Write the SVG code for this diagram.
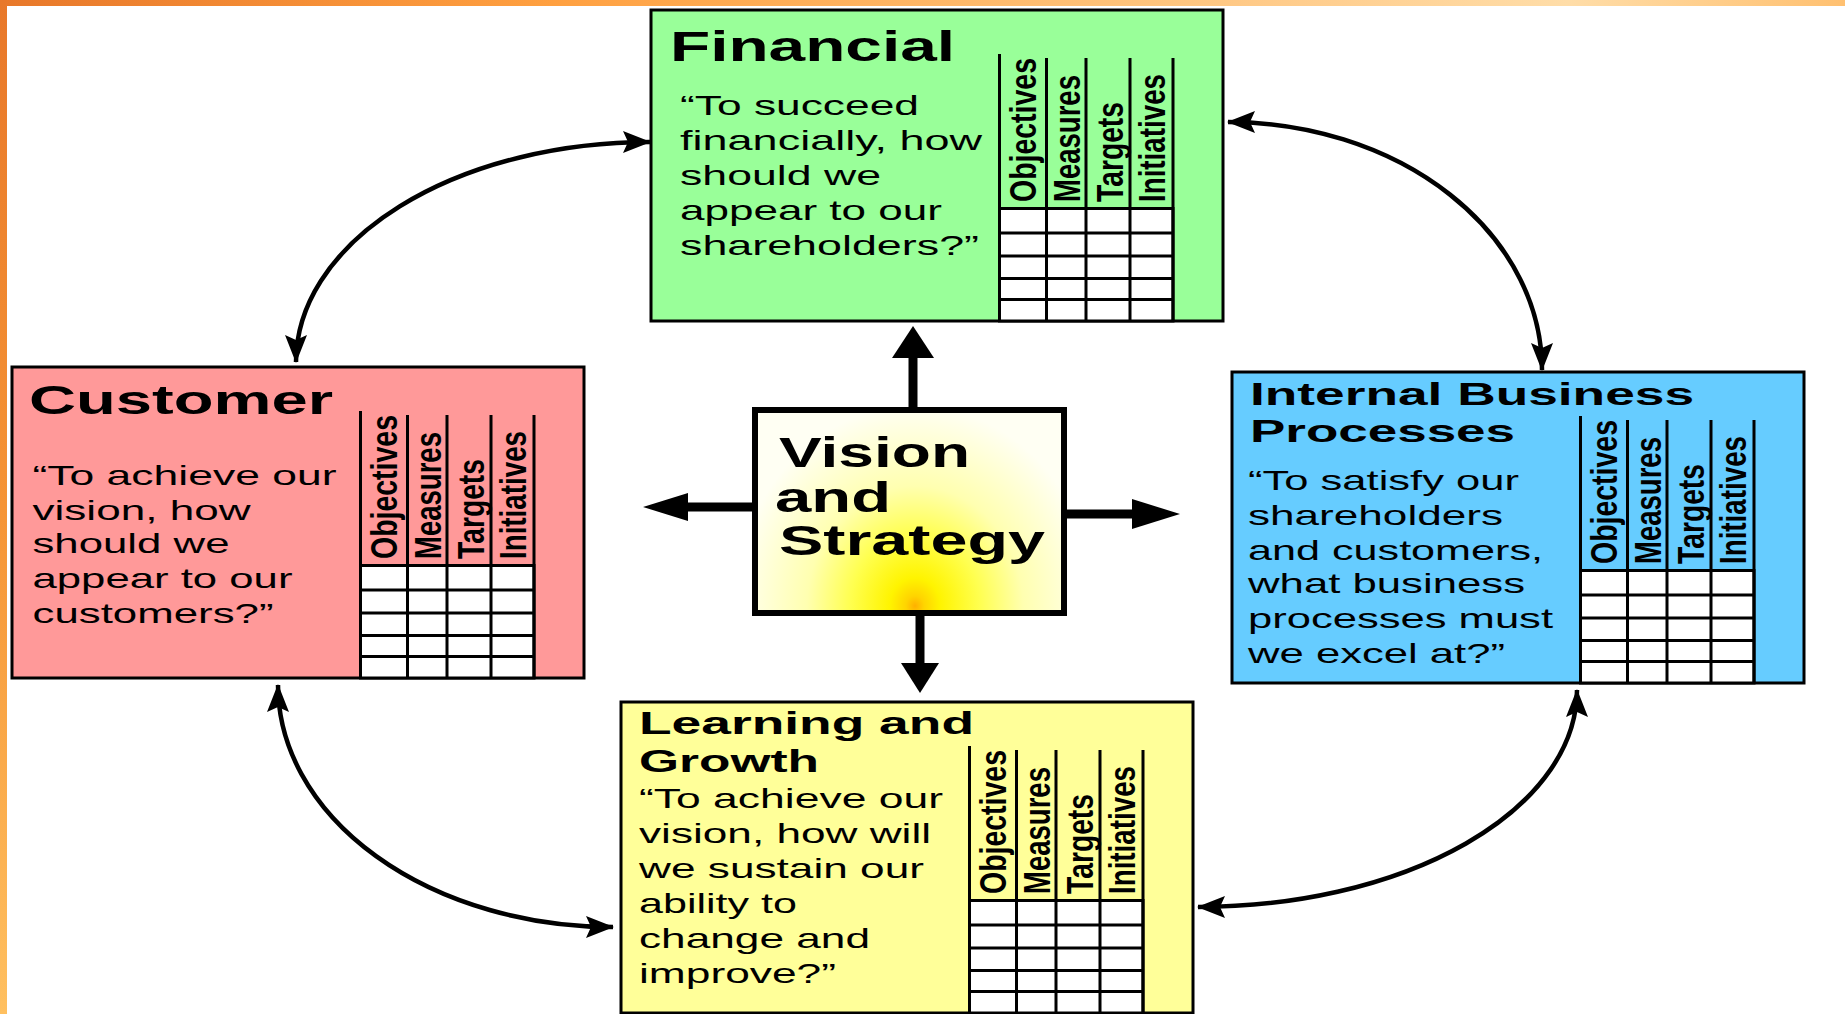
<svg xmlns="http://www.w3.org/2000/svg" xmlns:xlink="http://www.w3.org/1999/xlink" width="1845" height="1014" viewBox="0 0 1845 1014">
  <style>
    .t { font-family: "Liberation Sans", Arial, sans-serif; fill: #000; }
    .title { font-weight: bold; }
    .body { font-size: 28px; }
    .hdr { font-weight: bold; font-size: 36px; }
    .box { stroke: #000; stroke-width: 3; }
    .grid { fill: #fff; stroke: #000; stroke-width: 3; }
    .gl { stroke: #000; stroke-width: 3; fill: none; }
    .arc { fill: none; stroke: #000; stroke-width: 4.5; marker-start: url(#tip); marker-end: url(#tip); }
    .shaft { stroke: #000; stroke-width: 9; }
    .head { fill: #000; }
  </style>
  <defs>
    <linearGradient id="topBand" x1="0" y1="0" x2="1" y2="0">
      <stop offset="0" stop-color="#E8782A"/>
      <stop offset="0.3" stop-color="#FFA040"/>
      <stop offset="0.85" stop-color="#FFDDA8"/>
      <stop offset="1" stop-color="#FFC070"/>
    </linearGradient>
    <linearGradient id="sideBand" x1="0" y1="0" x2="0" y2="1">
      <stop offset="0" stop-color="#E8782A"/>
      <stop offset="0.5" stop-color="#F59435"/>
      <stop offset="1" stop-color="#FFC060"/>
    </linearGradient>
    <radialGradient id="glow" gradientUnits="userSpaceOnUse" cx="915" cy="606" r="200" gradientTransform="translate(915 606) scale(0.9 1) translate(-915 -606)">
      <stop offset="0" stop-color="#FFB000"/>
      <stop offset="0.05" stop-color="#FFD400"/>
      <stop offset="0.14" stop-color="#FFF400"/>
      <stop offset="0.36" stop-color="#FFFF50"/>
      <stop offset="0.6" stop-color="#FFFFB0"/>
      <stop offset="1" stop-color="#FFFFF3"/>
    </radialGradient>
    <marker id="tip" markerUnits="userSpaceOnUse" markerWidth="28" markerHeight="22" viewBox="0 0 28 22" refX="27" refY="11" orient="auto-start-reverse">
      <path d="M0,0 L28,11 L0,22 L5,11 z" fill="#000"/>
    </marker>
    <!-- objectives / measures / targets / initiatives table, placed relative to its card -->
    <g id="scorecard">
      <rect class="grid" x="348.5" y="198.5" width="173.5" height="112.5"/>
      <path class="gl" d="M348.5,44 V311 M395.5,48 V311 M435,48 V311 M479,48 V311 M522,48 V311 M348.5,223 H522 M348.5,246 H522 M348.5,268.5 H522 M348.5,289.5 H522"/>
      <text class="t hdr" transform="translate(385,192) rotate(-90)" textLength="144" lengthAdjust="spacingAndGlyphs">Objectives</text>
      <text class="t hdr" transform="translate(429,192) rotate(-90)" textLength="127" lengthAdjust="spacingAndGlyphs">Measures</text>
      <text class="t hdr" transform="translate(471.5,192) rotate(-90)" textLength="100" lengthAdjust="spacingAndGlyphs">Targets</text>
      <text class="t hdr" transform="translate(514,192) rotate(-90)" textLength="128" lengthAdjust="spacingAndGlyphs">Initiatives</text>
    </g>
  </defs>

  <!-- slide background -->
  <rect x="0" y="0" width="1845" height="1014" fill="#FFFFFF"/>
  <rect x="0" y="0" width="1845" height="6" fill="url(#topBand)"/>
  <rect x="0" y="0" width="7" height="1014" fill="url(#sideBand)"/>

  <!-- connectors -->
  <g id="connectors">
    <path class="arc" d="M296,362 A354,220 0 0 1 650,142"/>
    <path class="arc" d="M1228,122 A314,248 0 0 1 1542,370"/>
    <path class="arc" d="M1577,690 A379,217 0 0 1 1198,907"/>
    <path class="arc" d="M278,685 A335,242 0 0 0 613,927"/>

    <line class="shaft" x1="913" y1="410" x2="913" y2="356"/>
    <polygon class="head" points="892,358 913,326 934,358"/>
    <line class="shaft" x1="920" y1="613" x2="920" y2="665"/>
    <polygon class="head" points="901,663 920,693 939,663"/>
    <line class="shaft" x1="754" y1="507" x2="686" y2="507"/>
    <polygon class="head" points="688,493 643,507 688,521"/>
    <line class="shaft" x1="1064" y1="514" x2="1134" y2="514"/>
    <polygon class="head" points="1132,499 1180,514 1132,529"/>
  </g>

  <!-- Financial perspective -->
  <g id="financial" transform="translate(651,10)">
    <rect class="box" x="0" y="0" width="572" height="311" fill="#99FF99"/>
    <use xlink:href="#scorecard" href="#scorecard"/>
    <text class="t title" x="19" y="51" font-size="43" textLength="285" lengthAdjust="spacingAndGlyphs">Financial</text>
    <g class="t body">
      <text x="29" y="105" textLength="239" lengthAdjust="spacingAndGlyphs">“To succeed</text>
      <text x="29" y="140" textLength="302" lengthAdjust="spacingAndGlyphs">financially, how</text>
      <text x="29" y="175" textLength="201" lengthAdjust="spacingAndGlyphs">should we</text>
      <text x="29" y="210" textLength="262" lengthAdjust="spacingAndGlyphs">appear to our</text>
      <text x="29" y="245" textLength="299" lengthAdjust="spacingAndGlyphs">shareholders?”</text>
    </g>
  </g>

  <!-- Customer perspective -->
  <g id="customer" transform="translate(12,367)">
    <rect class="box" x="0" y="0" width="572" height="311" fill="#FF9999"/>
    <use xlink:href="#scorecard" href="#scorecard"/>
    <text class="t title" x="17" y="47" font-size="41" textLength="304" lengthAdjust="spacingAndGlyphs">Customer</text>
    <g class="t body">
      <text x="20.5" y="118" textLength="304" lengthAdjust="spacingAndGlyphs">“To achieve our</text>
      <text x="20.5" y="153" textLength="218" lengthAdjust="spacingAndGlyphs">vision, how</text>
      <text x="20.5" y="186" textLength="197" lengthAdjust="spacingAndGlyphs">should we</text>
      <text x="20.5" y="221" textLength="260" lengthAdjust="spacingAndGlyphs">appear to our</text>
      <text x="20.5" y="256" textLength="241" lengthAdjust="spacingAndGlyphs">customers?”</text>
    </g>
  </g>

  <!-- Internal Business Processes perspective -->
  <g id="internal" transform="translate(1232,372)">
    <rect class="box" x="0" y="0" width="572" height="311" fill="#66CCFF"/>
    <use xlink:href="#scorecard" href="#scorecard"/>
    <text class="t title" x="18" y="33" font-size="32" textLength="444" lengthAdjust="spacingAndGlyphs">Internal Business</text>
    <text class="t title" x="18" y="70" font-size="32" textLength="265" lengthAdjust="spacingAndGlyphs">Processes</text>
    <g class="t body">
      <text x="16" y="118" textLength="271" lengthAdjust="spacingAndGlyphs">“To satisfy our</text>
      <text x="16" y="153" textLength="255" lengthAdjust="spacingAndGlyphs">shareholders</text>
      <text x="16" y="188" textLength="295" lengthAdjust="spacingAndGlyphs">and customers,</text>
      <text x="16" y="221" textLength="277" lengthAdjust="spacingAndGlyphs">what business</text>
      <text x="16" y="256" textLength="305" lengthAdjust="spacingAndGlyphs">processes must</text>
      <text x="16" y="291" textLength="257" lengthAdjust="spacingAndGlyphs">we excel at?”</text>
    </g>
  </g>

  <!-- Learning and Growth perspective -->
  <g id="learning" transform="translate(621,702)">
    <rect class="box" x="0" y="0" width="572" height="311" fill="#FFFF99"/>
    <use xlink:href="#scorecard" href="#scorecard"/>
    <text class="t title" x="18" y="32" font-size="31" textLength="335" lengthAdjust="spacingAndGlyphs">Learning and</text>
    <text class="t title" x="18" y="70" font-size="31" textLength="180" lengthAdjust="spacingAndGlyphs">Growth</text>
    <g class="t body">
      <text x="18" y="106" textLength="304" lengthAdjust="spacingAndGlyphs">“To achieve our</text>
      <text x="18" y="141" textLength="292" lengthAdjust="spacingAndGlyphs">vision, how will</text>
      <text x="18" y="176" textLength="285" lengthAdjust="spacingAndGlyphs">we sustain our</text>
      <text x="18" y="211" textLength="158" lengthAdjust="spacingAndGlyphs">ability to</text>
      <text x="18" y="246" textLength="231" lengthAdjust="spacingAndGlyphs">change and</text>
      <text x="18" y="281" textLength="197" lengthAdjust="spacingAndGlyphs">improve?”</text>
    </g>
  </g>

  <!-- Vision and Strategy hub -->
  <g id="vision">
    <rect x="755" y="410" width="309" height="203" fill="url(#glow)" stroke="#000" stroke-width="6"/>
    <text class="t title" x="779" y="467" font-size="42" textLength="191" lengthAdjust="spacingAndGlyphs">Vision</text>
    <text class="t title" x="775" y="512" font-size="42" textLength="116" lengthAdjust="spacingAndGlyphs">and</text>
    <text class="t title" x="779" y="555" font-size="42" textLength="266" lengthAdjust="spacingAndGlyphs">Strategy</text>
  </g>
</svg>
